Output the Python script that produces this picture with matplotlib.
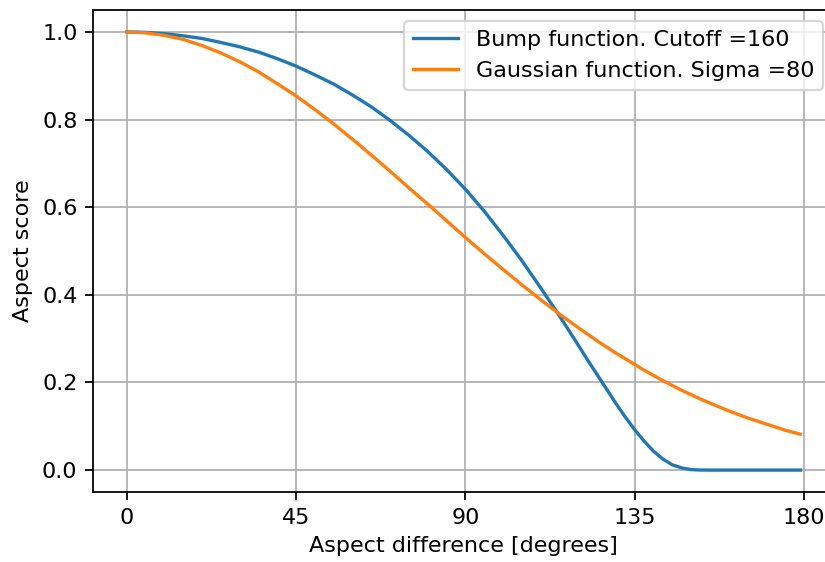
import matplotlib
matplotlib.use('Agg')
import matplotlib.pyplot as plt

# aspect difference in degrees and the two scores read at those angles
angles = [0, 5, 10, 15, 20, 25, 30, 35, 40, 45, 50, 55, 60, 65, 70, 75, 80, 85, 90,
          95, 100, 105, 110, 115, 120, 122.5, 125, 127.5, 130, 132.5, 135, 137.5,
          140, 142.5, 145, 147.5, 150, 152.5, 155, 160, 165, 170, 175, 179]
bump_score = [1.0, 0.999, 0.996, 0.991, 0.985, 0.976, 0.966, 0.954, 0.939, 0.922,
              0.902, 0.881, 0.856, 0.829, 0.798, 0.764, 0.727, 0.686, 0.641,
              0.591, 0.536, 0.478, 0.416, 0.352, 0.285, 0.251, 0.218, 0.185,
              0.152, 0.121, 0.092, 0.066, 0.043, 0.025, 0.012, 0.005, 0.001,
              0.0002, 0.0, 0.0, 0.0, 0.0, 0.0, 0.0]
gauss_score = [1.0, 0.998, 0.992, 0.983, 0.969, 0.952, 0.932, 0.909, 0.882, 0.854,
               0.823, 0.790, 0.755, 0.719, 0.682, 0.644, 0.607, 0.569, 0.531,
               0.494, 0.458, 0.423, 0.389, 0.356, 0.325, 0.310, 0.295, 0.281,
               0.267, 0.254, 0.241, 0.228, 0.216, 0.204, 0.193, 0.182, 0.172,
               0.162, 0.153, 0.135, 0.119, 0.105, 0.091, 0.082]
xticks = [0, 45, 90, 135, 180]

dpi = 160
fig = plt.figure(figsize=(825 / dpi, 562 / dpi), dpi=dpi)
ax = fig.add_axes([93 / 825, 70 / 562, 741 / 825, 482 / 562])

ax.plot(angles, bump_score, label='Bump function. Cutoff =160')
ax.plot(angles, gauss_score, label='Gaussian function. Sigma =80')

ax.set_xticks(xticks)
ax.set_xlabel('Aspect difference [degrees]')
ax.set_ylabel('Aspect score')
ax.grid(True)
ax.legend(loc='upper right')

fig.savefig('out.png', dpi=dpi)
